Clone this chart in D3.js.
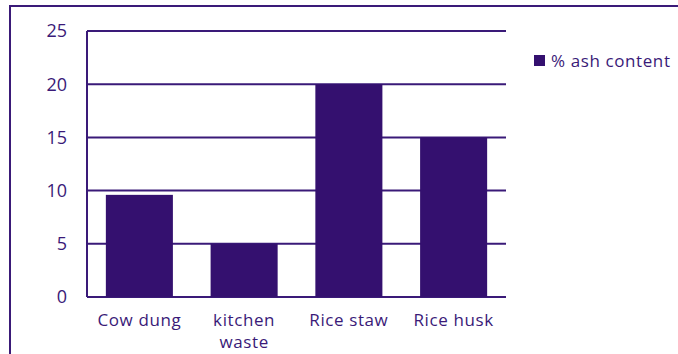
<!DOCTYPE html>
<html lang="en">
<head>
    <meta charset="utf-8">
    <style>
        body { margin: 0; background: #fff; }
        svg text { font-family: "Open Sans", "Noto Sans", sans-serif; fill: #3a1a78; }
        .lbl { letter-spacing: 0.6px; }
    </style>
</head>
<body>
<svg id="mainSVG" width="678" height="354"></svg>
<script src="https://cdn.jsdelivr.net/npm/d3@7"></script>
<script>
    // data
    var categories = [["Cow dung"], ["kitchen", "waste"], ["Rice staw"], ["Rice husk"]];
    var ashValues = [9.6, 5, 20, 15];
    var yTicks = [0, 5, 10, 15, 20, 25];
    var seriesName = "% ash content";

    var barColor = "#34106f",
        lineColor = "#3a1a78";

    var svg = d3.select("#mainSVG");

    // outer frame, runs off the right and bottom edge
    svg.append("rect")
        .attr("x", 10).attr("y", 6)
        .attr("width", 700).attr("height", 400)
        .attr("fill", "none")
        .attr("stroke", lineColor)
        .attr("stroke-width", 2);

    var plotLeft = 87, plotRight = 506, plotTop = 31, plotBottom = 297;

    var x = d3.scaleBand()
        .domain(d3.range(categories.length))
        .range([plotLeft, plotRight])
        .paddingInner(0.36)
        .paddingOuter(0.18);

    var y = d3.scaleLinear()
        .domain([0, 25])
        .range([plotBottom, plotTop]);

    // gridlines
    svg.append("g")
        .selectAll("line")
        .data(yTicks)
        .enter().append("line")
        .attr("x1", plotLeft).attr("x2", plotRight)
        .attr("y1", function (d) { return y(d); })
        .attr("y2", function (d) { return y(d); })
        .attr("stroke", lineColor)
        .attr("stroke-width", 2);

    // y axis line
    svg.append("line")
        .attr("x1", plotLeft).attr("x2", plotLeft)
        .attr("y1", plotTop).attr("y2", plotBottom)
        .attr("stroke", lineColor)
        .attr("stroke-width", 2);

    // bars
    svg.append("g")
        .selectAll("rect")
        .data(ashValues)
        .enter().append("rect")
        .attr("x", function (d, i) { return x(i); })
        .attr("width", x.bandwidth())
        .attr("y", function (d) { return y(d); })
        .attr("height", function (d) { return y(0) - y(d); })
        .attr("fill", barColor);

    // y tick labels
    svg.append("g")
        .selectAll("text")
        .data(yTicks)
        .enter().append("text")
        .attr("x", 67)
        .attr("y", function (d) { return y(d); })
        .attr("dy", "0.35em")
        .attr("text-anchor", "end")
        .attr("font-size", 18)
        .text(function (d) { return d; });

    // x labels
    var xl = svg.append("g")
        .selectAll("text")
        .data(categories)
        .enter().append("text")
        .attr("class", "lbl")
        .attr("text-anchor", "middle")
        .attr("font-size", 17)
        .attr("y", 326);
    xl.selectAll("tspan")
        .data(function (d, i) { return d.map(function (t) { return [t, i]; }); })
        .enter().append("tspan")
        .attr("x", function (d) { return x(d[1]) + x.bandwidth() / 2; })
        .attr("dy", function (d, j) { return j == 0 ? 0 : 22; })
        .text(function (d) { return d[0]; });

    // legend
    svg.append("rect")
        .attr("x", 534).attr("y", 55)
        .attr("width", 11).attr("height", 11)
        .attr("fill", barColor);
    svg.append("text")
        .attr("class", "lbl")
        .attr("x", 551).attr("y", 61)
        .attr("dy", "0.35em")
        .attr("font-size", 17)
        .text(seriesName);
</script>
</body>
</html>
